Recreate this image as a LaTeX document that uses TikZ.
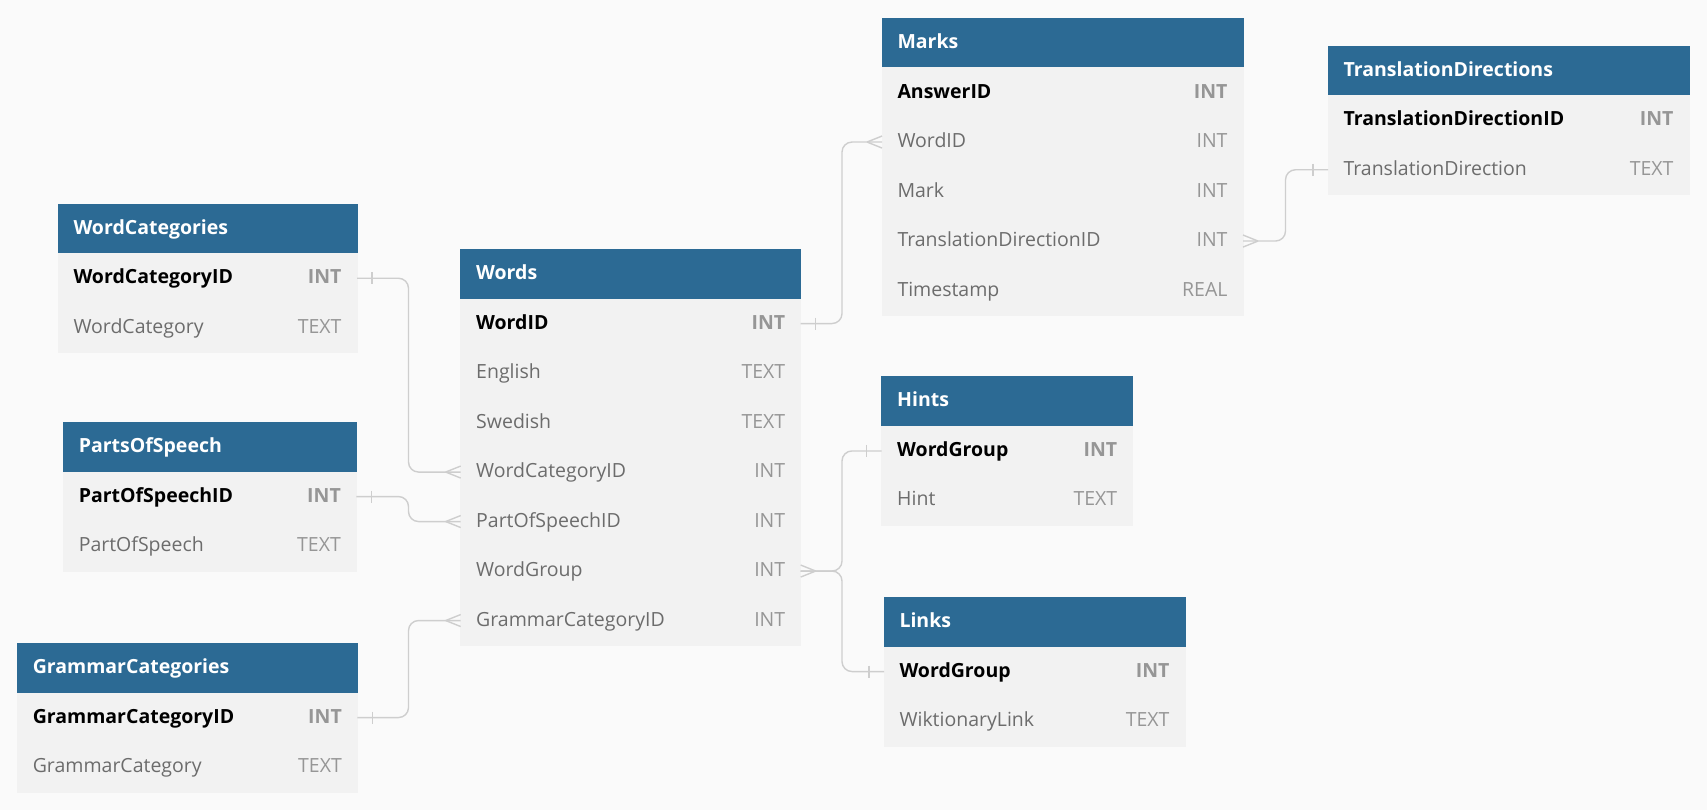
\documentclass[tikz,border=0pt]{standalone}
\usepackage{fontspec}
\setmainfont{Open Sans}
\usetikzlibrary{positioning}

\definecolor{headblue}{RGB}{44,106,148}
\definecolor{rowgray}{RGB}{242,242,242}
\definecolor{backgray}{RGB}{250,250,250}
\definecolor{fieldgray}{RGB}{108,108,108}
\definecolor{typegray}{RGB}{150,150,150}
\definecolor{linkgray}{RGB}{206,206,206}

\tikzset{
  tblhead/.style={anchor=north west, fill=headblue, draw=headblue, line width=0.6pt, outer sep=0pt,
    text=white, font=\bfseries,
    inner xsep=15.5pt, inner ysep=0pt, minimum height=49.5pt, text height=11pt, text depth=0pt},
  fieldrow/.style={below=0pt of #1, fill=rowgray, draw=rowgray, line width=0.6pt, outer sep=0pt,
    text=fieldgray,
    inner xsep=15.5pt, inner ysep=0pt, minimum height=49.5pt, text height=11pt, text depth=0pt},
  keyrow/.style={fieldrow=#1, text=black, font=\bfseries},
  link/.style={draw=linkgray, line width=1.4pt, rounded corners=10pt},
  onetick/.pic={\draw[link] (15,-6) -- (15,6);},
  crowfoot/.pic={\draw[link] (0,-6) -- (15,0) (0,6) -- (15,0);},
}
\newcommand{\ty}[1]{\hfill\textcolor{typegray}{#1}}

\begin{document}
\fontsize{19.5}{23}\selectfont
\begin{tikzpicture}[x=1pt, y=-1pt]
  \fill[backgray] (0,0) rectangle (1707,810);
  \useasboundingbox (0,0) rectangle (1707,810);

  % Words
  \begin{scope}[every node/.append style={text width=309pt}]
    \node[tblhead] (words) at (460.7,249.3) {Words};
    \node[keyrow=words] (words-id) {WordID\ty{INT}};
    \node[fieldrow=words-id] (words-en) {English\ty{TEXT}};
    \node[fieldrow=words-en] (words-sv) {Swedish\ty{TEXT}};
    \node[fieldrow=words-sv] (words-wcat) {WordCategoryID\ty{INT}};
    \node[fieldrow=words-wcat] (words-pos) {PartOfSpeechID\ty{INT}};
    \node[fieldrow=words-pos] (words-wg) {WordGroup\ty{INT}};
    \node[fieldrow=words-wg] (words-gcat) {GrammarCategoryID\ty{INT}};
  \end{scope}

  % Marks
  \begin{scope}[every node/.append style={text width=330pt}]
    \node[tblhead] (marks) at (882,18.3) {Marks};
    \node[keyrow=marks] (marks-id) {AnswerID\ty{INT}};
    \node[fieldrow=marks-id] (marks-wid) {WordID\ty{INT}};
    \node[fieldrow=marks-wid] (marks-mark) {Mark\ty{INT}};
    \node[fieldrow=marks-mark] (marks-tdid) {TranslationDirectionID\ty{INT}};
    \node[fieldrow=marks-tdid] (marks-time) {Timestamp\ty{REAL}};
  \end{scope}

  % TranslationDirections
  \begin{scope}[every node/.append style={text width=330pt}]
    \node[tblhead] (tdir) at (1328,46) {TranslationDirections};
    \node[keyrow=tdir] (tdir-id) {TranslationDirectionID\ty{INT}};
    \node[fieldrow=tdir-id] (tdir-dir) {TranslationDirection\ty{TEXT}};
  \end{scope}

  % WordCategories
  \begin{scope}[every node/.append style={text width=268pt}]
    \node[tblhead] (wcat) at (58,204) {WordCategories};
    \node[keyrow=wcat] (wcat-id) {WordCategoryID\ty{INT}};
    \node[fieldrow=wcat-id] (wcat-name) {WordCategory\ty{TEXT}};
  \end{scope}

  % PartsOfSpeech
  \begin{scope}[every node/.append style={text width=262pt}]
    \node[tblhead] (pos) at (63.3,422.3) {PartsOfSpeech};
    \node[keyrow=pos] (pos-id) {PartOfSpeechID\ty{INT}};
    \node[fieldrow=pos-id] (pos-name) {PartOfSpeech\ty{TEXT}};
  \end{scope}

  % GrammarCategories
  \begin{scope}[every node/.append style={text width=309pt}]
    \node[tblhead] (gcat) at (17.3,643.3) {GrammarCategories};
    \node[keyrow=gcat] (gcat-id) {GrammarCategoryID\ty{INT}};
    \node[fieldrow=gcat-id] (gcat-name) {GrammarCategory\ty{TEXT}};
  \end{scope}

  % Hints
  \begin{scope}[every node/.append style={text width=220pt}]
    \node[tblhead] (hints) at (881.7,376.7) {Hints};
    \node[keyrow=hints] (hints-wg) {WordGroup\ty{INT}};
    \node[fieldrow=hints-wg] (hints-hint) {Hint\ty{TEXT}};
  \end{scope}

  % Links
  \begin{scope}[every node/.append style={text width=270pt}]
    \node[tblhead] (links) at (884,597.3) {Links};
    \node[keyrow=links] (links-wg) {WordGroup\ty{INT}};
    \node[fieldrow=links-wg] (links-wikt) {WiktionaryLink\ty{TEXT}};
  \end{scope}

  % lanes for the connectors
  \coordinate (laneL) at (408.5,0);
  \coordinate (laneM) at (842,0);
  \coordinate (laneR) at (1285.5,0);

  \draw[link] (wcat-id.east) -- (laneL |- wcat-id.east) -- (laneL |- words-wcat.west) -- (words-wcat.west);
  \draw[link] (pos-id.east) -- (laneL |- pos-id.east) -- (laneL |- words-pos.west) -- (words-pos.west);
  \draw[link] (gcat-id.east) -- (laneL |- gcat-id.east) -- (laneL |- words-gcat.west) -- (words-gcat.west);
  \draw[link] (words-id.east) -- (laneM |- words-id.east) -- (laneM |- marks-wid.west) -- (marks-wid.west);
  \draw[link] (marks-tdid.east) -- (laneR |- marks-tdid.east) -- (laneR |- tdir-dir.west) -- (tdir-dir.west);
  \draw[link] (words-wg.east) -- (laneM |- words-wg.east) -- (laneM |- hints-wg.west) -- (hints-wg.west);
  \draw[link] (words-wg.east) -- (laneM |- words-wg.east) -- (laneM |- links-wg.west) -- (links-wg.west);

  % one ends
  \pic at (wcat-id.east) {onetick};
  \pic at (pos-id.east) {onetick};
  \pic at (gcat-id.east) {onetick};
  \pic at (words-id.east) {onetick};
  \pic[xscale=-1] at (tdir-dir.west) {onetick};
  \pic[xscale=-1] at (hints-wg.west) {onetick};
  \pic[xscale=-1] at (links-wg.west) {onetick};

  % many ends
  \pic[xscale=-1] at (words-wcat.west) {crowfoot};
  \pic[xscale=-1] at (words-pos.west) {crowfoot};
  \pic[xscale=-1] at (words-gcat.west) {crowfoot};
  \pic[xscale=-1] at (marks-wid.west) {crowfoot};
  \pic at (marks-tdid.east) {crowfoot};
  \pic at (words-wg.east) {crowfoot};
\end{tikzpicture}
\end{document}
